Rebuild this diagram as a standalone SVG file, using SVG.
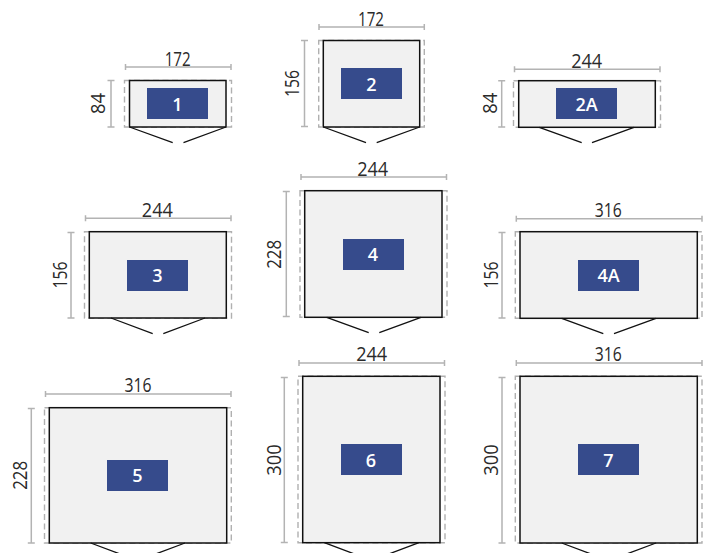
<svg xmlns="http://www.w3.org/2000/svg" width="703" height="553" viewBox="0 0 703 553">
<style>
.out{fill:none;stroke:#b0b0b0;stroke-width:1.4;stroke-dasharray:6 3.5}
.body{fill:#f1f1f1;stroke:#111;stroke-width:1.5}
.dim{fill:none;stroke:#b3b3b3;stroke-width:1.5}
.door{fill:none;stroke:#111;stroke-width:1.3}
.tag{fill:#364b8c}
.size{font-family:"Open Sans","Noto Sans",sans-serif;font-weight:400;font-size:19.5px;fill:#2a2a2a;text-anchor:middle}
.num{font-family:"Open Sans","Noto Sans",sans-serif;font-weight:600;font-size:18px;fill:#fff;text-anchor:middle}
</style>
<rect width="703" height="553" fill="#fff"/>
<g id="node-1">
<rect class="out" x="124.5" y="80.5" width="107" height="46.5"/>
<rect class="body" x="129.5" y="80.5" width="96.5" height="46.5"/>
<path class="dim" d="M125.5 64v6M231 64v6M125.5 67H231M107.5 80.5h7M107.5 127h7M111 80.5V127"/>
<path class="door" d="M129.5 127L172.7 142.7M226 127L183.5 142.7"/>
<rect class="tag" x="147" y="88" width="61" height="31"/>
<text class="size" x="177.7" y="65.6" textLength="26" lengthAdjust="spacingAndGlyphs">172</text>
<text class="size" transform="translate(105 103.5) rotate(-90)" textLength="21" lengthAdjust="spacingAndGlyphs">84</text>
<text class="num" x="177.5" y="110.7">1</text>
</g>
<g id="node-2">
<rect class="out" x="318.7" y="40.5" width="105.6" height="86.5"/>
<rect class="body" x="323.3" y="40.5" width="96.4" height="86.5"/>
<path class="dim" d="M319 24v6M424.3 24v6M319 27H424.3M301 40.5h7M301 126.5h7M304.5 40.5V126.5"/>
<path class="door" d="M323.3 127L366 142.7M419.7 127L376.7 142.7"/>
<rect class="tag" x="341" y="68" width="61" height="31"/>
<text class="size" x="371" y="25.6" textLength="26" lengthAdjust="spacingAndGlyphs">172</text>
<text class="size" transform="translate(299.3 83.5) rotate(-90)" textLength="27" lengthAdjust="spacingAndGlyphs">156</text>
<text class="num" x="371.5" y="90.7">2</text>
</g>
<g id="node-2A">
<rect class="out" x="513.5" y="80.7" width="147" height="46.6"/>
<rect class="body" x="518.7" y="80.7" width="136.6" height="46.6"/>
<path class="dim" d="M514.5 66.3v6M660 66.3v6M514.5 69.3H660M498.2 80.7h7M498.2 127h7M501.7 80.7V127"/>
<path class="door" d="M539.3 127.3L581.7 142.7M634 127.3L592 142.7"/>
<rect class="tag" x="556" y="88" width="61" height="31"/>
<text class="size" x="586.7" y="67.8" textLength="31" lengthAdjust="spacingAndGlyphs">244</text>
<text class="size" transform="translate(497.3 103.3) rotate(-90)" textLength="21" lengthAdjust="spacingAndGlyphs">84</text>
<text class="num" x="586.5" y="110.7">2A</text>
</g>
<g id="node-3">
<rect class="out" x="84.5" y="231.7" width="147" height="86.3"/>
<rect class="body" x="89.3" y="231.7" width="137" height="86.3"/>
<path class="dim" d="M85.5 215.3v6M231 215.3v6M85.5 218.3H231M67.5 232.5h7M67.5 318h7M71 232.5V318"/>
<path class="door" d="M111 318L152.7 333.7M205 318L163.3 333.7"/>
<rect class="tag" x="127" y="260" width="61" height="31"/>
<text class="size" x="157.3" y="216.6" textLength="31" lengthAdjust="spacingAndGlyphs">244</text>
<text class="size" transform="translate(66.7 275) rotate(-90)" textLength="27" lengthAdjust="spacingAndGlyphs">156</text>
<text class="num" x="157.5" y="281.7">3</text>
</g>
<g id="node-4">
<rect class="out" x="300" y="190.7" width="147" height="126.6"/>
<rect class="body" x="304.7" y="190.7" width="137.3" height="126.6"/>
<path class="dim" d="M301 174v6M446.5 174v6M301 177H446.5M282.8 191.5h7M282.8 316.5h7M286.3 191.5V316.5"/>
<path class="door" d="M326.7 317.3L368.7 332.7M421 317.3L379.3 332.7"/>
<rect class="tag" x="343" y="239" width="61" height="31"/>
<text class="size" x="372.7" y="175.6" textLength="31" lengthAdjust="spacingAndGlyphs">244</text>
<text class="size" transform="translate(280.7 254.3) rotate(-90)" textLength="29" lengthAdjust="spacingAndGlyphs">228</text>
<text class="num" x="373" y="260.7">4</text>
</g>
<g id="node-4A">
<rect class="out" x="515.3" y="231.7" width="186.7" height="86.6"/>
<rect class="body" x="520" y="231.7" width="177.3" height="86.6"/>
<path class="dim" d="M516.3 215.7v6M702 215.7v6M516.3 218.7H702M498.5 232.5h7M498.5 318h7M502 232.5V318"/>
<path class="door" d="M561.7 318.3L603.3 333.7M656 318.3L614 333.7"/>
<rect class="tag" x="578" y="260" width="61" height="31"/>
<text class="size" x="608.3" y="216.6" textLength="27" lengthAdjust="spacingAndGlyphs">316</text>
<text class="size" transform="translate(497.7 275) rotate(-90)" textLength="27" lengthAdjust="spacingAndGlyphs">156</text>
<text class="num" x="608.5" y="281.7">4A</text>
</g>
<g id="node-5">
<rect class="out" x="44.5" y="407.7" width="186.8" height="135.3"/>
<rect class="body" x="49.3" y="407.7" width="177.4" height="135.3"/>
<path class="dim" d="M45.5 391v6M231 391v6M45.5 394H231M27.8 408.5h7M27.8 543h7M31.3 408.5V543"/>
<path class="door" d="M90.7 543L132.7 558.7M185 543L143 558.7"/>
<rect class="tag" x="107" y="460" width="61" height="31"/>
<text class="size" x="138" y="392.2" textLength="27" lengthAdjust="spacingAndGlyphs">316</text>
<text class="size" transform="translate(27.3 475.3) rotate(-90)" textLength="29" lengthAdjust="spacingAndGlyphs">228</text>
<text class="num" x="137.5" y="481.7">5</text>
</g>
<g id="node-6">
<rect class="out" x="298" y="376.3" width="147" height="166.4"/>
<rect class="body" x="302.7" y="376.3" width="137.3" height="166.4"/>
<path class="dim" d="M299 360v6M444.5 360v6M299 363H444.5M280.8 377.5h7M280.8 542.5h7M284.3 377.5V542.5"/>
<path class="door" d="M324.3 542.7L366.3 558.4M419 542.7L377 558.4"/>
<rect class="tag" x="341" y="444" width="61" height="31"/>
<text class="size" x="371.7" y="361.2" textLength="31" lengthAdjust="spacingAndGlyphs">244</text>
<text class="size" transform="translate(280.7 460) rotate(-90)" textLength="31.5" lengthAdjust="spacingAndGlyphs">300</text>
<text class="num" x="371" y="466.7">6</text>
</g>
<g id="node-7">
<rect class="out" x="515.3" y="376.3" width="186.7" height="166.7"/>
<rect class="body" x="520" y="376.3" width="177.3" height="166.7"/>
<path class="dim" d="M516.3 360v6M702 360v6M516.3 363H702M498.5 377.5h7M498.5 543h7M502 377.5V543"/>
<path class="door" d="M561.7 543L603.7 558.7M656 543L614 558.7"/>
<rect class="tag" x="578" y="444" width="61" height="31"/>
<text class="size" x="608.3" y="361.2" textLength="27" lengthAdjust="spacingAndGlyphs">316</text>
<text class="size" transform="translate(498 460) rotate(-90)" textLength="31.5" lengthAdjust="spacingAndGlyphs">300</text>
<text class="num" x="608.5" y="466.7">7</text>
</g>
</svg>
